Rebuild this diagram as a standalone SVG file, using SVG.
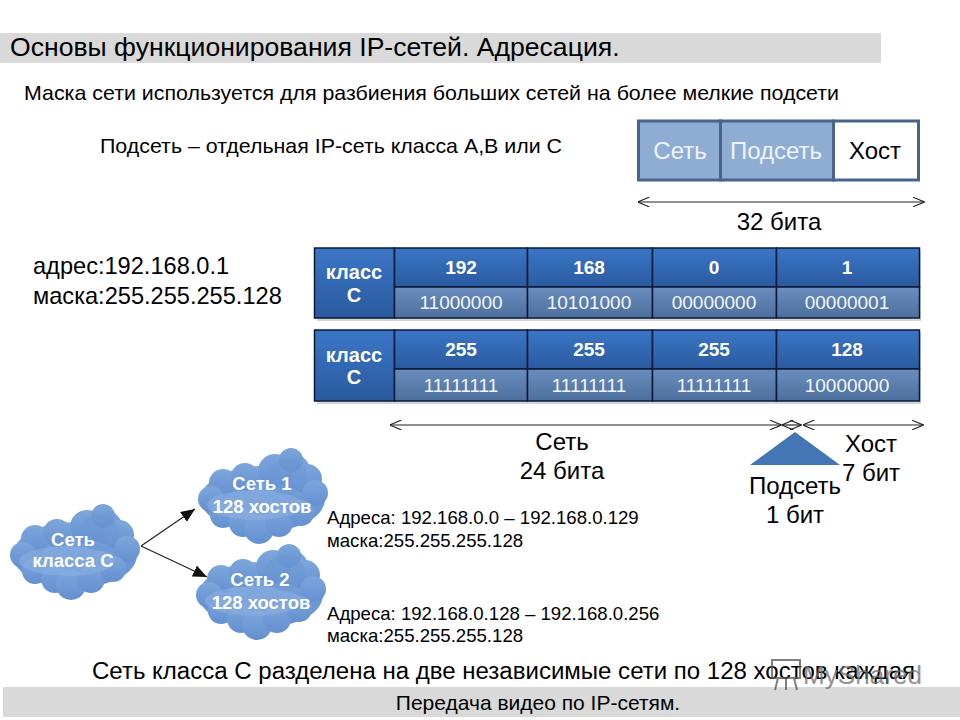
<svg xmlns="http://www.w3.org/2000/svg" width="960" height="720" viewBox="0 0 960 720">
<style>
text{font-family:"Liberation Sans",Arial,sans-serif;fill:#000}
.l{font-size:24px}
.b{font-size:20.400px}
.s{font-size:18.600px}
.w{fill:#fff;font-weight:bold;text-anchor:middle;font-size:19px}
.k{font-size:20px}
.c{font-size:18.500px}
.n{fill:#f2f7fd;text-anchor:middle;font-size:19px}
.m{text-anchor:middle}
.cell{stroke:#0a1a3a;stroke-width:1.5}
.conn{stroke:#222;stroke-width:1.2;fill:none}
</style>
<defs>
<linearGradient id="hd" x1="0" y1="0" x2="0" y2="1"><stop offset="0" stop-color="#3b76c6"/><stop offset="1" stop-color="#2a5a9f"/></linearGradient>
<linearGradient id="sb" x1="0" y1="0" x2="0" y2="1"><stop offset="0" stop-color="#6a8dbd"/><stop offset="1" stop-color="#4d6f9e"/></linearGradient>
<linearGradient id="cl" x1="0" y1="0" x2="0" y2="1"><stop offset="0" stop-color="#7da6dc"/><stop offset="1" stop-color="#6490d0"/></linearGradient>
<filter id="soft" x="-5%" y="-5%" width="110%" height="110%"><feGaussianBlur stdDeviation="0.8"/></filter>
<marker id="open" viewBox="0 0 12 10" refX="11.500" refY="5" markerWidth="12" markerHeight="10" orient="auto-start-reverse" markerUnits="userSpaceOnUse"><path d="M0 0L12 5L0 10" fill="none" stroke="#222" stroke-width="1.100"/></marker>
<marker id="solid" viewBox="0 0 14 12" refX="14" refY="6" markerWidth="14" markerHeight="12" orient="auto" markerUnits="userSpaceOnUse"><path d="M0 0L14 6L0 12Z" fill="#111"/></marker>
<g id="cloud">
<g fill="url(#cl)">
<ellipse cx="66" cy="52" rx="62" ry="33"/>
<circle cx="96" cy="24" r="17"/><circle cx="110" cy="32" r="15"/><circle cx="78" cy="24" r="17"/><circle cx="94" cy="13" r="12"/>
<circle cx="118" cy="46" r="13"/><circle cx="26" cy="36" r="14"/><circle cx="48" cy="30" r="14"/><circle cx="14" cy="52" r="13"/>
<circle cx="26" cy="68" r="13"/><circle cx="46" cy="76" r="14"/><circle cx="62" cy="82" r="15"/><circle cx="82" cy="76" r="14"/><circle cx="104" cy="66" r="13"/>
</g>
<ellipse cx="58" cy="58" rx="48" ry="15" fill="#8db1e1" opacity=".55"/>
<ellipse cx="90" cy="30" rx="20" ry="18" fill="#6a97d4" opacity=".5"/>
</g>
</defs>
<rect width="960" height="720" fill="#fff"/>
<rect x="0" y="33" width="881" height="30" fill="#d9d9d9"/>
<rect x="3" y="687" width="957" height="30" fill="#d9d9d9"/>
<text x="10" y="56" style="font-size:26.600px">Основы функционирования IP-сетей. Адресация.</text>
<text x="24" y="100" class="b" textLength="815" lengthAdjust="spacingAndGlyphs">Маска сети используется для разбиения больших сетей на более мелкие подсети</text>
<text x="100" y="153" class="b" textLength="462" lengthAdjust="spacingAndGlyphs">Подсеть – отдельная IP-сеть класса А,В или С</text>
<g id="mask-bar">
<rect x="638.500" y="121" width="82" height="59" fill="#8fadd3" stroke="#48648c" stroke-width="3"/>
<rect x="720.500" y="121" width="113" height="59" fill="#8fadd3" stroke="#48648c" stroke-width="3"/>
<rect x="833.500" y="121" width="85" height="59" fill="#fff" stroke="#48648c" stroke-width="3"/>
<text x="680" y="159" class="l m" style="fill:#eef4fb">Сеть</text>
<text x="776" y="159" class="l m" style="fill:#eef4fb">Подсеть</text>
<text x="875" y="159" class="l m">Хост</text>
</g>
<text x="779" y="230" class="l m">32 бита</text>
<text x="33" y="274" class="l" style="font-size:23.600px">адрес:192.168.0.1</text>
<text x="33" y="304" class="l" style="font-size:23.600px">маска:255.255.255.128</text>
<g id="table-address">
<rect x="317" y="251" width="604" height="70" fill="#888" opacity=".35"/>
<rect class="cell" x="314.500" y="248" width="80" height="70" fill="url(#hd)"/>
<rect class="cell" x="394.500" y="248" width="133" height="39" fill="url(#hd)"/>
<rect class="cell" x="527.500" y="248" width="125" height="39" fill="url(#hd)"/>
<rect class="cell" x="652.500" y="248" width="124" height="39" fill="url(#hd)"/>
<rect class="cell" x="776.500" y="248" width="143" height="39" fill="url(#hd)"/>
<rect class="cell" x="394.500" y="287" width="133" height="31" fill="url(#sb)"/>
<rect class="cell" x="527.500" y="287" width="125" height="31" fill="url(#sb)"/>
<rect class="cell" x="652.500" y="287" width="124" height="31" fill="url(#sb)"/>
<rect class="cell" x="776.500" y="287" width="143" height="31" fill="url(#sb)"/>
<text x="354" y="279" class="w k">класс</text><text x="354" y="302" class="w k">С</text>
<text x="461" y="274" class="w">192</text><text x="589" y="274" class="w">168</text><text x="714" y="274" class="w">0</text><text x="847" y="274" class="w">1</text>
<text x="461" y="309" class="n">11000000</text><text x="589" y="309" class="n">10101000</text><text x="714" y="309" class="n">00000000</text><text x="847" y="309" class="n">00000001</text>
</g>
<g id="table-mask">
<rect x="317" y="333" width="604" height="71" fill="#888" opacity=".35"/>
<rect class="cell" x="314.500" y="330" width="80" height="71" fill="url(#hd)"/>
<rect class="cell" x="394.500" y="330" width="133" height="39" fill="url(#hd)"/>
<rect class="cell" x="527.500" y="330" width="125" height="39" fill="url(#hd)"/>
<rect class="cell" x="652.500" y="330" width="124" height="39" fill="url(#hd)"/>
<rect class="cell" x="776.500" y="330" width="143" height="39" fill="url(#hd)"/>
<rect class="cell" x="394.500" y="369" width="133" height="32" fill="url(#sb)"/>
<rect class="cell" x="527.500" y="369" width="125" height="32" fill="url(#sb)"/>
<rect class="cell" x="652.500" y="369" width="124" height="32" fill="url(#sb)"/>
<rect class="cell" x="776.500" y="369" width="143" height="32" fill="url(#sb)"/>
<text x="354" y="362" class="w k">класс</text><text x="354" y="384" class="w k">С</text>
<text x="461" y="356" class="w">255</text><text x="589" y="356" class="w">255</text><text x="714" y="356" class="w">255</text><text x="847" y="356" class="w">128</text>
<text x="461" y="392" class="n">11111111</text><text x="589" y="392" class="n">11111111</text><text x="714" y="392" class="n">11111111</text><text x="847" y="392" class="n">10000000</text>
</g>
<g id="connectors">
<line class="conn" x1="638" y1="202" x2="924" y2="202" marker-start="url(#open)" marker-end="url(#open)"/>
<line class="conn" x1="390" y1="425" x2="781" y2="425" marker-start="url(#open)" marker-end="url(#open)"/>
<line class="conn" x1="782" y1="425" x2="801" y2="425" marker-start="url(#open)" marker-end="url(#open)"/>
<line class="conn" x1="803" y1="425" x2="923" y2="425" marker-start="url(#open)" marker-end="url(#open)"/>
<line class="conn" x1="141" y1="546" x2="195" y2="509" marker-end="url(#solid)"/>
<line class="conn" x1="141" y1="546" x2="207" y2="577" marker-end="url(#solid)"/>
</g>
<polygon id="subnet-brace" points="795,432 840,465 750,465" fill="#4475b5"/>
<text x="562" y="450" class="l m">Сеть</text>
<text x="562" y="479" class="l m">24 бита</text>
<text x="871" y="452" class="l m">Хост</text>
<text x="871" y="481" class="l m">7 бит</text>
<text x="795" y="494" class="l m">Подсеть</text>
<text x="795" y="523" class="l m">1 бит</text>
<g id="cloud-main"><use href="#cloud" transform="translate(9,503)"/>
<text x="73" y="546" class="w c">Сеть</text><text x="73" y="567" class="w c">класса С</text></g>
<g id="cloud-1"><use href="#cloud" transform="translate(197,447)"/>
<text x="262" y="490" class="w c">Сеть 1</text><text x="262" y="513" class="w c">128 хостов</text></g>
<g id="cloud-2"><use href="#cloud" transform="translate(195,543)"/>
<text x="260" y="586" class="w c">Сеть 2</text><text x="261" y="609" class="w c">128 хостов</text></g>
<text x="327" y="524" class="s">Адреса: 192.168.0.0 – 192.168.0.129</text>
<text x="327" y="547" class="s">маска:255.255.255.128</text>
<text x="327" y="620" class="s">Адреса: 192.168.0.128 – 192.168.0.256</text>
<text x="327" y="642" class="s">маска:255.255.255.128</text>
<text x="92" y="679" style="font-size:23px" textLength="823" lengthAdjust="spacingAndGlyphs">Сеть класса С разделена на две независимые сети по 128 хостов каждая</text>
<text x="538" y="710" class="m" style="font-size:21px">Передача видео по IP-сетям.</text>
<g id="watermark" opacity=".75">
<path d="M772 660H800V678H772ZM778 678L775 690M786 678V690M794 678L797 690" fill="none" stroke="#555" stroke-width="2"/>
<text x="803" y="684" style="font-size:26px;fill:#6f6f6f" textLength="119" lengthAdjust="spacingAndGlyphs">MyShared</text>
</g>
</svg>
